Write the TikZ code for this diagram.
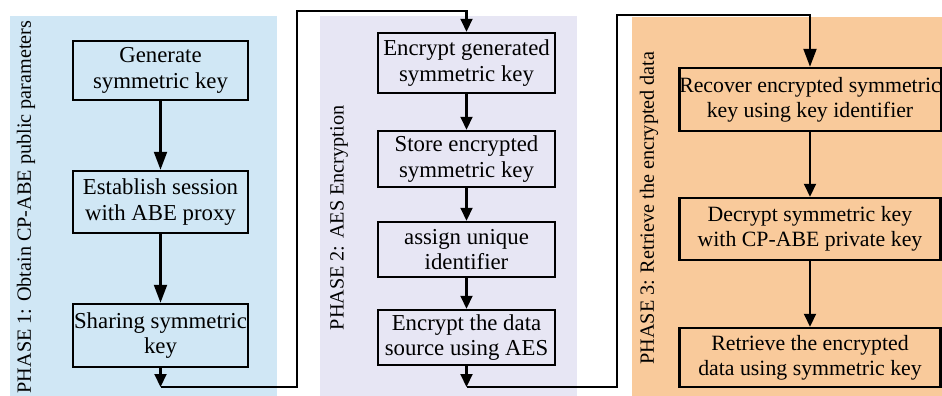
\documentclass[tikz,border=0pt]{standalone}
\usepackage{fontspec}
\setmainfont{Liberation Serif}
\usetikzlibrary{arrows.meta}
\definecolor{phaseblue}{HTML}{D0E7F5}
\definecolor{phaselav}{HTML}{E7E6F4}
\definecolor{phasepeach}{HTML}{F9CA9B}
\begin{document}
\begin{tikzpicture}[x=0.5pt,y=-0.5pt,
  stepbox/.style={draw, line width=1.25pt, align=center, inner sep=0pt,
    font=\fontsize{11.4}{12.6}\selectfont},
  widebox/.style={stepbox, font=\fontsize{10.9}{12.6}\selectfont},
  flow/.style={line width=1.05pt, -{Triangle[length=6.5pt,width=6pt]}},
  bigflow/.style={line width=1.05pt, -{Triangle[length=9pt,width=6.5pt]}},
  phaselabel/.style={rotate=90, inner sep=0pt, font=\fontsize{10.1}{12}\selectfont}]
\useasboundingbox (0,0) rectangle (942,396);

% phase backgrounds
\fill[phaseblue]  (10,16)  rectangle (277,396);
\fill[phaselav]   (320,16) rectangle (577,396);
\fill[phasepeach] (632,17) rectangle (942,396);

% phase titles
\node[phaselabel] (t1) at (26,207)  {PHASE 1: Obtain CP-ABE public parameters};
\node[phaselabel] (t2) at (339,218) {PHASE 2: AES Encryption};
\node[phaselabel] (t3) at (649,208) {PHASE 3: Retrieve the encrypted data};

% phase 1 steps
\node[stepbox, minimum width=87.5pt, minimum height=29.5pt] (b1) at (160.5,70.5) {Generate\\symmetric key};
\node[stepbox, minimum width=87.5pt, minimum height=31pt]   (b2) at (160.5,202)  {Establish session\\with ABE proxy};
\node[stepbox, minimum width=87.5pt, minimum height=31.5pt] (b3) at (160.5,335.5) {Sharing symmetric\\key};

% phase 2 steps
\node[stepbox, minimum width=88.5pt, minimum height=30pt]   (e1) at (466.5,63)    {Encrypt generated\\symmetric key};
\node[stepbox, minimum width=88.5pt, minimum height=28pt]   (e2) at (466.5,159)   {Store encrypted\\symmetric key};
\node[stepbox, minimum width=88.5pt, minimum height=27.5pt] (e3) at (466.5,249.5) {assign unique\\identifier};
\node[stepbox, minimum width=88.5pt, minimum height=27.5pt] (e4) at (466.5,337.5) {Encrypt the data\\source using AES};

% phase 3 steps
\node[widebox, minimum width=130.5pt, minimum height=31.5pt] (r1) at (810,99.5)  {Recover encrypted symmetric\\key using key identifier};
\node[widebox, minimum width=130.5pt, minimum height=31pt]   (r2) at (810,229)   {Decrypt symmetric key\\with CP-ABE private key};
\node[widebox, minimum width=130.5pt, minimum height=29.5pt] (r3) at (810,357.5) {Retrieve the encrypted\\data using symmetric key};

% routing points between phases
\coordinate (p1a) at (160.5,387);
\coordinate (p1b) at (297,387);
\coordinate (p1c) at (297,11);
\coordinate (p2a) at (466.5,387);
\coordinate (p2b) at (617,387);
\coordinate (p2c) at (617,15);

% arrows inside phases
\draw[bigflow] (b1) -- (b2);
\draw[bigflow] (b2) -- (b3);
\draw[flow] (e1) -- (e2);
\draw[flow] (e2) -- (e3);
\draw[flow] (e3) -- (e4);
\draw[flow] (r1) -- (r2);
\draw[flow] (r2) -- (r3);

% hand-over from phase 1 to phase 2
\draw[flow] (b3) -- (p1a);
\draw[flow] (p1a) -- (p1b) -- (p1c) -| (e1);

% hand-over from phase 2 to phase 3
\draw[flow] (e4) -- (p2a);
\draw[bigflow] (p2a) -- (p2b) -- (p2c) -| (r1);
\end{tikzpicture}
\end{document}
